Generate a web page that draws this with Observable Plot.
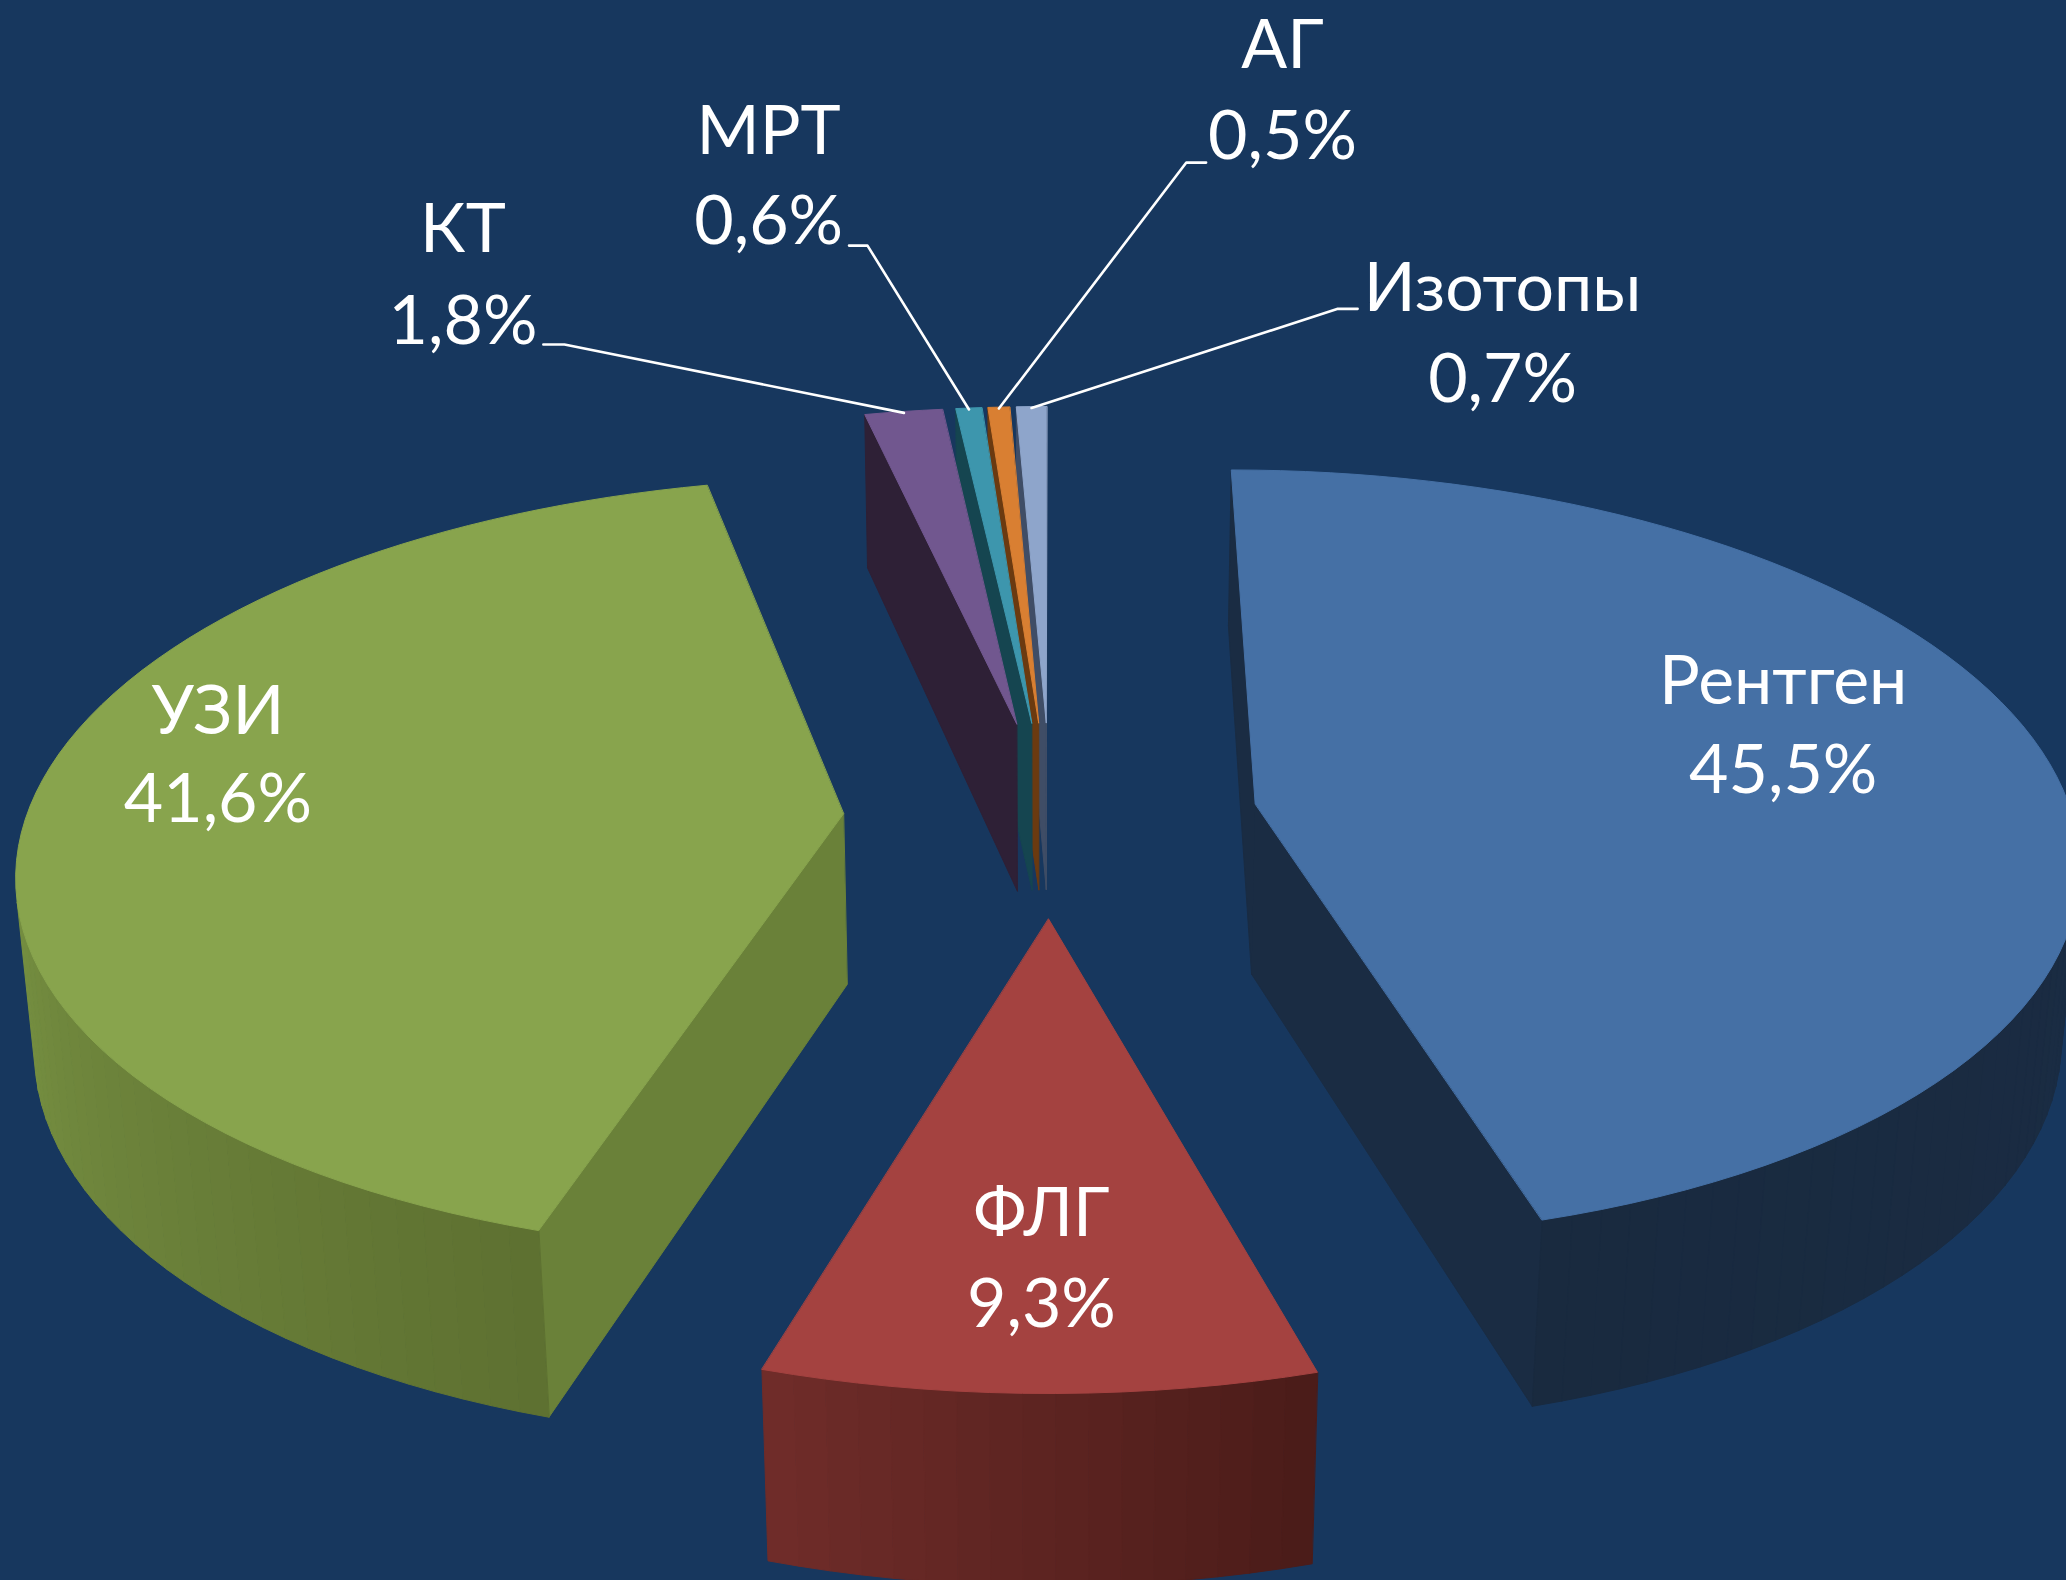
<!DOCTYPE html>
<html>
<head>
<meta charset="utf-8">
<script src="https://cdn.jsdelivr.net/npm/d3@7"></script>
<script src="https://cdn.jsdelivr.net/npm/@observablehq/plot@0.6"></script>
<style>
html,body{margin:0;padding:0;background:#17375e;}
svg{display:block;}
</style>
</head>
<body>
<div id="chart"></div>
<script>
// Data
const categories = ["Рентген", "ФЛГ", "УЗИ", "КТ", "МРТ", "АГ", "Изотопы"];
const shares = [45.5, 9.3, 41.6, 1.8, 0.6, 0.5, 0.7];
const topColors = ["#4570a5", "#a44240", "#88a44d", "#71578f", "#3d96ad", "#d97f32", "#8ea5cb"];
const faceColors = ["#1a2c43", "#702c2a", "#6a8139", "#2e2036", "#154550", "#6b3a10", "#3f4d66"];
const arcFrom = ["#1c2f4a", "#4a1c18", "#5e7031", "#2e2036", "#154550", "#6b3a10", "#3f4d66"];
const arcTo = ["#192a3f", "#702c2a", "#98bb58", "#2e2036", "#154550", "#6b3a10", "#3f4d66"];
const paintOrder = [6, 5, 4, 3, 2, 0, 1];

// View of the tilted, exploded pie (units: the 1568×1199 frame)
const view = {cx: 797, cy: 620, rx: 613, ry: 289.6, persp: 0.133, explode: 0.257, drop: 132, dropPersp: 0.018, bulge: 0.012};
const rad = d => d * Math.PI / 180;
function project(mid, r, ang, low) {
  const s = Math.sin(rad(ang)), c = Math.cos(rad(ang));
  const rr = r * (1 + view.bulge * s * s);
  const X = view.explode * Math.sin(rad(mid)) + rr * s;
  const Y = view.explode * Math.cos(rad(mid)) + rr * c;
  const d = 1 + view.persp * Y + (low ? view.dropPersp : 0);
  return [view.cx + view.rx * X / d, view.cy + (-view.ry * Y + (low ? view.drop : 0)) / d];
}
const shoelace = p => d3.sum(p, (a, i) => { const b = p[(i + 1) % p.length]; return a[0] * b[1] - b[0] * a[1]; });

// Wedges from the shares
const total = d3.sum(shares);
let acc = 0;
const wedges = categories.map((name, i) => {
  const a0 = acc * 360 / total; acc += shares[i];
  const a1 = acc * 360 / total;
  return {i, name, a0, a1, mid: (a0 + a1) / 2};
});

// Faces: all side walls first, then the top faces above them
const faces = [];
let id = 0;
function addFace(points, color) {
  const fid = id++;
  points.forEach(([x, y]) => faces.push({x, y, id: fid, color}));
}
const STEP = 2;
const apexOf = w => low => project(w.mid, 0, 0, low);
const rimOf = (w, a) => low => project(w.mid, 1, a, low);
const anglesOf = w => {
  const n = Math.max(1, Math.ceil((w.a1 - w.a0) / STEP));
  return d3.range(n + 1).map(j => w.a0 + (w.a1 - w.a0) * j / n);
};
for (const k of paintOrder) {
  const w = wedges[k];
  const ang = anglesOf(w);
  const side = (p, q, color) => {
    const quad = [p(false), q(false), q(true), p(true)];
    if (shoelace(quad) < 0) addFace(quad, color);
  };
  side(apexOf(w), rimOf(w, w.a0), faceColors[k]);
  side(rimOf(w, w.a1), apexOf(w), faceColors[k]);
  const mix = d3.interpolateRgb(arcFrom[k], arcTo[k]);
  for (let j = 0; j < ang.length - 1; j++) {
    side(rimOf(w, ang[j]), rimOf(w, ang[j + 1]), mix((j + 0.5) / (ang.length - 1)));
  }
}
for (const k of paintOrder) {
  const w = wedges[k];
  addFace([apexOf(w)(false), ...anglesOf(w).map(a => rimOf(w, a)(false))], topColors[k]);
}

// Labels
const labelX = [1353, 790, 165, 351, 583, 973, 1140];
const nameY = [517, 921, 540, 174, 100, 35, 219];
const valueY = [585, 990, 607, 244, 168, 104, 288];
const fmt = v => v.toFixed(1).replace(".", ",") + "%";
const labels = categories.flatMap((name, i) => [
  {x: labelX[i], y: nameY[i], text: name},
  {x: labelX[i], y: valueY[i], text: fmt(shares[i])}
]);

// Leader lines: text-side tail, knee, then the wedge's rim midpoint
const leaderOf = [3, 4, 5, 6];
const leaderTail = [[412, 261], [644, 186], [915, 123], [1030, 234]];
const leaderKnee = [[428, 261], [658, 186], [900, 123], [1015, 234]];
const leaders = leaderOf.flatMap((k, i) => {
  const w = wedges[k];
  const end = project(w.mid, 0.995, w.mid, false);
  return [leaderTail[i], leaderKnee[i], end].map(([x, y]) => ({x, y, k}));
});

const chart = Plot.plot({
  width: 2066,
  height: 1580,
  margin: 0,
  style: {background: "#17375e", fontFamily: "Lato, 'Open Sans', sans-serif"},
  x: {domain: [0, 1568], range: [0, 2066], axis: null},
  y: {domain: [0, 1199], range: [0, 1580], axis: null},
  color: {type: "identity"},
  marks: [
    Plot.line(faces, {x: "x", y: "y", z: "id", fill: "color", stroke: "color", strokeWidth: 1, curve: "linear-closed"}),
    Plot.line(leaders, {x: "x", y: "y", z: "k", stroke: "#ffffff", strokeWidth: 2.6, curve: "linear"}),
    Plot.text(labels, {x: "x", y: "y", text: "text", fill: "#ffffff", fontSize: 68, textAnchor: "middle", lineAnchor: "middle"})
  ]
});
document.getElementById("chart").appendChild(chart);
</script>
</body>
</html>
